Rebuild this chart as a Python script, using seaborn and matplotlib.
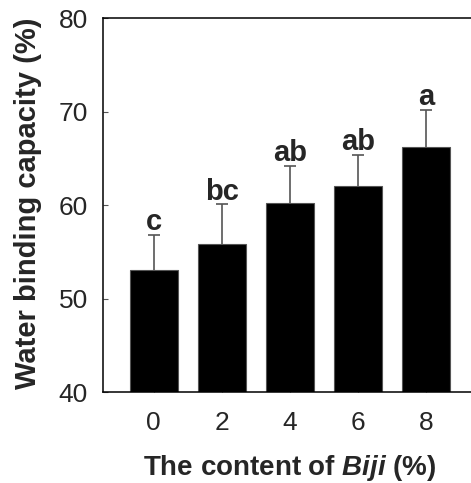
import matplotlib
matplotlib.use('Agg')
import matplotlib.pyplot as plt
import seaborn as sns
import pandas as pd

# Biji content (%) vs water binding capacity (%)
contents = ['0', '2', '4', '6', '8']
wbc_mean = [53.1, 55.9, 60.3, 62.1, 66.2]
wbc_sd = [3.7, 4.2, 3.9, 3.25, 4.0]
letters = ['c', 'bc', 'ab', 'ab', 'a']

sns.set_style('ticks')
plt.rcParams['font.family'] = ['Liberation Sans', 'DejaVu Sans']
plt.rcParams['mathtext.fontset'] = 'custom'
plt.rcParams['mathtext.it'] = 'Liberation Sans:italic:bold'
plt.rcParams['mathtext.rm'] = 'Liberation Sans:bold'

df = pd.DataFrame({'content': contents, 'wbc': wbc_mean})

fig = plt.figure(figsize=(4.71, 4.83), dpi=100)
ax = fig.add_axes([0.2187, 0.1874, 1.0127 - 0.2187, 0.9621 - 0.1874])

sns.barplot(data=df, x='content', y='wbc', color='black', saturation=1,
            width=0.71, edgecolor='#555555', linewidth=0.8, ax=ax)
# bars sit on top so only the upper half of each error bar shows
for p in ax.patches:
    p.set_zorder(3)
ax.errorbar(range(len(contents)), wbc_mean, yerr=wbc_sd,
            fmt='none', ecolor='#555555', elinewidth=1.2, capsize=4.3,
            capthick=1.2, zorder=2)

for i, (m, s, lab) in enumerate(zip(wbc_mean, wbc_sd, letters)):
    ax.annotate(lab, (i, m + s), xytext=(0, 3.5), textcoords='offset points',
                ha='center', va='baseline', fontsize=21, fontweight='bold')

ax.set_ylim(40, 80)
ax.set_yticks([40, 50, 60, 70, 80])
ax.set_xlim(-0.745, 4.745)
ax.tick_params(axis='both', direction='in', length=3.6, width=0.8,
               color='#555555', labelsize=19)
ax.tick_params(axis='y', pad=11)
ax.tick_params(axis='x', pad=13)
for sp in ax.spines.values():
    sp.set_linewidth(1.1)
    sp.set_color('black')
    sp.set_visible(True)
    sp.set_zorder(4)

ax.set_ylabel('Water binding capacity (%)', fontsize=21, fontweight='bold')
ax.set_xlabel(r'The content of $\mathit{Biji}$ (%)', fontsize=20, fontweight='bold')
ax.yaxis.set_label_coords(-0.163, 0.505)
ax.xaxis.set_label_coords(0.5, -0.163)

fig.savefig('out.png', dpi=100)
plt.close()
